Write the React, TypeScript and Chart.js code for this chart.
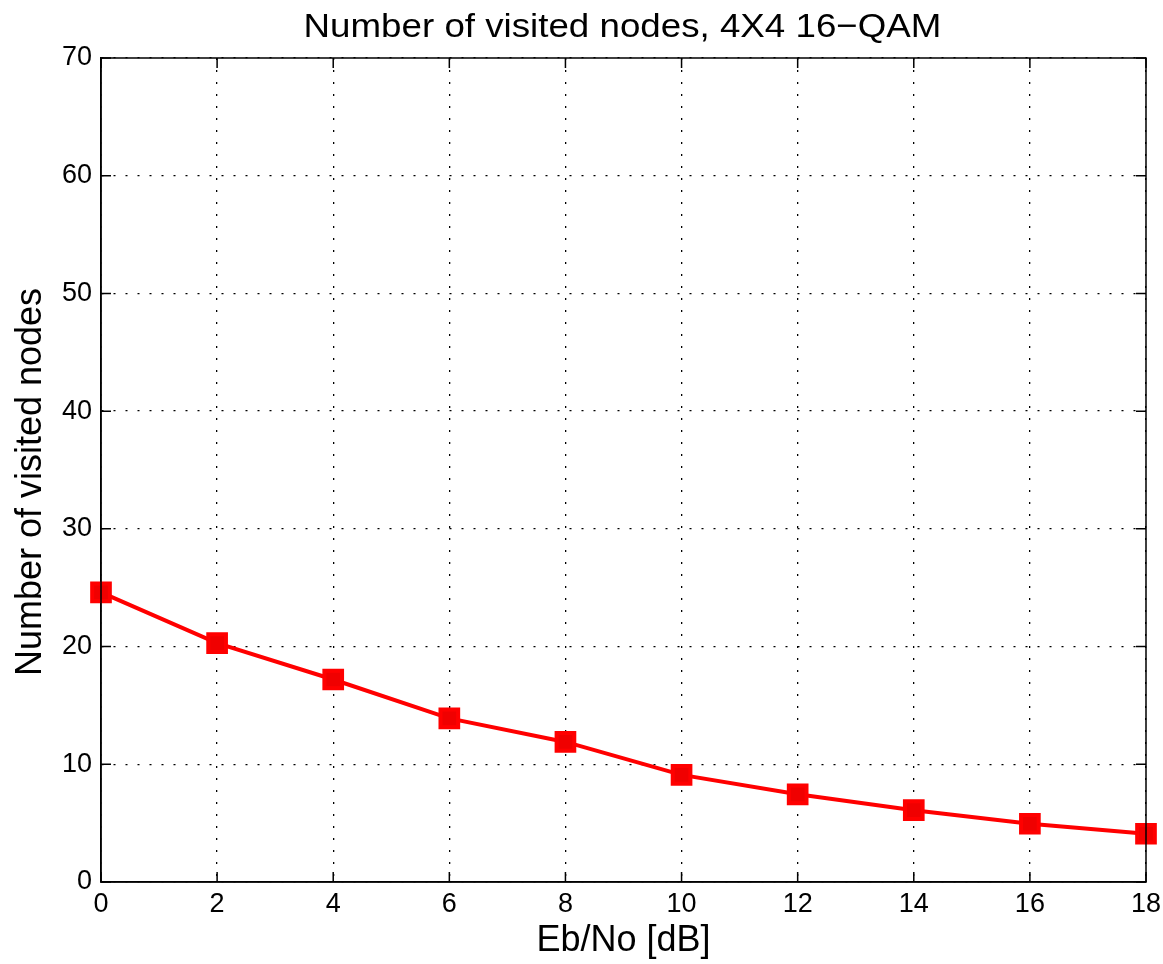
import React, { useEffect, useRef } from "react";
import { Chart, registerables } from "chart.js";

Chart.register(...registerables);

const ebNo = [0, 2, 4, 6, 8, 10, 12, 14, 16, 18];
const visitedNodes = [24.6, 20.3, 17.2, 13.9, 11.9, 9.1, 7.45, 6.1, 4.95, 4.1];
const chartTitle = "Number of visited nodes, 4X4 16\u2212QAM";
const xTitle = "Eb/No [dB]";
const yTitle = "Number of visited nodes";
const FONT = "'Liberation Sans', Arial, Helvetica, sans-serif";

const framePlugin = {
  id: "matlabFrame",
  afterDatasetsDraw(chart: any) {
    const { ctx, chartArea: a, scales } = chart;
    ctx.save();
    ctx.strokeStyle = "#000";
    ctx.lineWidth = 1.5;
    ctx.beginPath();
    ctx.rect(a.left, a.top, a.right - a.left, a.bottom - a.top);
    ctx.stroke();
    const tl = 10;
    ctx.beginPath();
    scales.x.ticks.forEach((t: any) => {
      const px = scales.x.getPixelForValue(t.value);
      ctx.moveTo(px, a.bottom);
      ctx.lineTo(px, a.bottom - tl);
      ctx.moveTo(px, a.top);
      ctx.lineTo(px, a.top + tl);
    });
    scales.y.ticks.forEach((t: any) => {
      const py = scales.y.getPixelForValue(t.value);
      ctx.moveTo(a.left, py);
      ctx.lineTo(a.left + tl, py);
      ctx.moveTo(a.right, py);
      ctx.lineTo(a.right - tl, py);
    });
    ctx.stroke();
    ctx.restore();
  },
  afterDraw(chart: any) {
    const { ctx, chartArea: a } = chart;
    ctx.save();
    ctx.fillStyle = "#000";
    ctx.textAlign = "center";
    ctx.textBaseline = "middle";
    ctx.save();
    ctx.translate((a.left + a.right) / 2 - 1, 28);
    ctx.scale(1.08, 1);
    ctx.font = `34px ${FONT}`;
    ctx.fillText(chartTitle, 0, 0);
    ctx.restore();
    ctx.font = `36px ${FONT}`;
    ctx.fillText(xTitle, (a.left + a.right) / 2, 941);
    ctx.translate(31, 482);
    ctx.rotate(-Math.PI / 2);
    ctx.font = `36px ${FONT}`;
    ctx.fillText(yTitle, 0, 0);
    ctx.restore();
  },
};

export default function App() {
  const ref = useRef<HTMLCanvasElement | null>(null);
  useEffect(() => {
    document.body.style.margin = "0";
    const canvas = ref.current;
    if (!canvas) return;
    const grid = {
      display: true,
      color: "#000",
      lineWidth: 1.3,
      drawTicks: false,
    };
    const chart = new Chart(canvas, {
      type: "line",
      data: {
        datasets: [
          {
            data: ebNo.map((x, i) => ({ x, y: visitedNodes[i] })),
            borderColor: "#ff0000",
            backgroundColor: "#ff0000",
            borderWidth: 4,
            pointStyle: "rect",
            pointRadius: 12.5,
            pointBorderWidth: 4,
            pointBackgroundColor: "#f00000",
            pointBorderColor: "#ff0000",
            tension: 0,
            clip: false,
          },
        ],
      },
      options: {
        animation: false,
        responsive: false,
        devicePixelRatio: 1,
        layout: { padding: { top: 58, right: 17, left: 0, bottom: 0 } },
        plugins: { legend: { display: false }, tooltip: { enabled: false }, title: { display: false } },
        scales: {
          x: {
            type: "linear",
            min: 0,
            max: 18,
            ticks: { stepSize: 2, padding: 6, color: "#000", font: { family: FONT, size: 27 } },
            grid: grid as any,
            border: { display: true, color: "#000", width: 1.5, dash: [2, 10] } as any,
            afterFit: (s: any) => {
              s.height = 82;
              s.paddingRight = 0;
              s.paddingLeft = 0;
            },
          },
          y: {
            type: "linear",
            min: 0,
            max: 70,
            ticks: { stepSize: 10, padding: 9, color: "#000", font: { family: FONT, size: 27 } },
            grid: grid as any,
            border: { display: true, color: "#000", width: 1.5, dash: [2, 10] } as any,
            afterFit: (s: any) => {
              s.width = 101;
              s.paddingTop = 0;
              s.paddingBottom = 0;
            },
          },
        },
      },
      plugins: [framePlugin],
    } as any);
    return () => chart.destroy();
  }, []);
  return <canvas ref={ref} width={1163} height={964} style={{ display: "block" }} />;
}
